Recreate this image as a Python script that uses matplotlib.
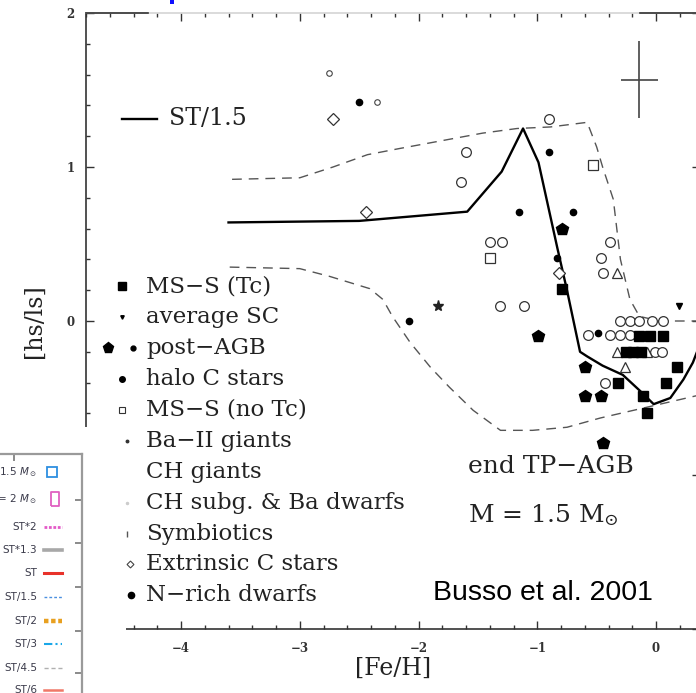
import matplotlib
matplotlib.use("Agg")
import matplotlib.pyplot as plt
from matplotlib.patches import Rectangle
from matplotlib.ticker import MultipleLocator

plt.rcParams["font.family"] = ["DejaVu Serif"]
plt.rcParams["mathtext.fontset"] = "dejavuserif"

# ---- model predictions: end of TP-AGB, M = 1.5 Msun ----
st15_feh = [-3.60, -2.50, -1.59, -1.30, -1.12, -0.99, -0.83, -0.75, -0.64, -0.58,
            -0.45, -0.28, -0.14, -0.02, 0.12, 0.23, 0.31, 0.37]
st15_hsls = [0.64, 0.65, 0.71, 0.97, 1.25, 1.03, 0.47, 0.20, -0.20, -0.23,
             -0.29, -0.35, -0.45, -0.54, -0.50, -0.38, -0.27, -0.15]

upper_feh = [-3.57, -3.00, -2.72, -2.43, -2.16, -1.74, -1.46, -1.17, -0.89, -0.58,
             -0.50, -0.45, -0.36, -0.30, -0.22, -0.14, 0.03, 0.37]
upper_hsls = [0.92, 0.93, 1.00, 1.08, 1.12, 1.18, 1.22, 1.25, 1.26, 1.29,
              1.13, 1.00, 0.79, 0.40, 0.14, 0.03, 0.00, 0.00]

lower_feh = [-3.59, -3.00, -2.75, -2.58, -2.41, -2.30, -2.22, -2.07, -1.90, -1.74,
             -1.54, -1.31, -1.04, -0.75, -0.47, -0.19, 0.09, 0.37]
lower_hsls = [0.35, 0.34, 0.29, 0.25, 0.21, 0.14, 0.03, -0.14, -0.30, -0.43,
              -0.58, -0.71, -0.71, -0.69, -0.63, -0.58, -0.53, -0.48]

# ---- observed stars ----
ms_tc_feh = [-0.79, -0.14, -0.05, 0.06, -0.25, -0.19, -0.13, -0.32, 0.18, 0.08, -0.11, -0.08]
ms_tc_hsls = [0.21, -0.10, -0.10, -0.10, -0.20, -0.20, -0.20, -0.40, -0.30, -0.40, -0.49, -0.60]

post_agb_feh = [-0.79, -0.99, -0.60, -0.60, -0.46, -0.45]
post_agb_hsls = [0.60, -0.10, -0.30, -0.49, -0.49, -0.79]

halo_c_feh = [-2.50, -0.90, -1.15, -0.70, -0.83, -2.08, -0.49]
halo_c_hsls = [1.42, 1.10, 0.71, 0.71, 0.41, 0.00, -0.08]

avg_sc_feh = [0.19]
avg_sc_hsls = [0.10]

symb_feh = [-1.84]
symb_hsls = [0.10]

open_circ_feh = [-1.60, -1.64, -0.90, -1.40, -1.30, -0.39, -0.46, -0.45, -1.31, -1.11,
                 -0.30, -0.22, -0.14, -0.03, 0.06, -0.57, -0.39, -0.30, -0.22,
                 -0.01, 0.05, -0.43]
open_circ_hsls = [1.10, 0.90, 1.31, 0.51, 0.51, 0.51, 0.41, 0.31, 0.10, 0.10,
                  0.00, 0.00, 0.00, 0.00, 0.00, -0.09, -0.09, -0.09, -0.09,
                  -0.20, -0.20, -0.40]

open_tri_feh = [-0.33, -0.33, -0.08, -0.26]
open_tri_hsls = [0.31, -0.20, -0.20, -0.30]

open_sq_feh = [-0.53, -1.40]
open_sq_hsls = [1.01, 0.41]

extr_big_feh = [-2.72, -2.44, -0.82]
extr_big_hsls = [1.31, 0.71, 0.31]

extr_small_feh = [-2.75, -2.35]
extr_small_hsls = [1.61, 1.42]

# typical error bar
err_feh, err_hsls, err_dx, err_dy = -0.14, 1.565, 0.155, 0.25

legend_labels = ["MS\u2212S (Tc)", "average SC", "post\u2212AGB", "halo C stars",
                 "MS\u2212S (no Tc)", "Ba\u2212II giants", "CH giants",
                 "CH subg. & Ba dwarfs", "Symbiotics", "Extrinsic C stars",
                 "N\u2212rich dwarfs"]

inset_labels = ["$M$ = 1.5 $M_\\odot$", "$M$ = 2 $M_\\odot$", "ST*2", "ST*1.3", "ST",
                "ST/1.5", "ST/2", "ST/3", "ST/4.5", "ST/6"]

W, H = 696, 693
fig = plt.figure(figsize=(W / 100, H / 100), dpi=100)
ax = fig.add_axes([86 / W, (H - 629) / H, (700 - 86) / W, (629 - 13) / H])
ax.set_xlim(-4.80, 0.37)
ax.set_ylim(-2, 2)

spine_c = "#333333"
for s in ax.spines.values():
    s.set_linewidth(1.2)
    s.set_color(spine_c)
ax.spines["top"].set_color("#d4d4d4")
for x0, x1 in [(0.0, 0.101), (0.902, 1.0)]:
    ax.plot([x0, x1], [1, 1], color=spine_c, lw=1.2, transform=ax.transAxes,
            clip_on=False, zorder=3)

ax.xaxis.set_major_locator(MultipleLocator(1))
ax.xaxis.set_minor_locator(MultipleLocator(0.2))
ax.yaxis.set_major_locator(MultipleLocator(1))
ax.yaxis.set_minor_locator(MultipleLocator(0.2))
ax.tick_params(which="both", direction="in", top=True, right=True, colors=spine_c,
               width=1.0)
ax.tick_params(which="major", length=6)
ax.tick_params(which="minor", length=3)
ax.tick_params(axis="x", which="major", pad=9, labelsize=8.5)
ax.tick_params(axis="y", which="major", pad=8, labelsize=8.5)
for lbl in ax.get_xticklabels() + ax.get_yticklabels():
    lbl.set_fontweight("bold")
ax.xaxis.set_major_formatter(plt.FuncFormatter(lambda v, p: f"{v:.0f}".replace("-", "\u2212")))
ax.yaxis.set_major_formatter(plt.FuncFormatter(lambda v, p: f"{v:.0f}".replace("-", "\u2212")))
ax.set_xlabel("[Fe/H]", fontsize=17, labelpad=2, color="#222222")
ax.set_ylabel("[hs/ls]", fontsize=17, labelpad=8, color="#222222")

# model curves
ax.plot(st15_feh, st15_hsls, color="black", lw=1.7, zorder=4, clip_on=True)
ax.plot(upper_feh, upper_hsls, color="#555555", lw=1.0, dashes=(7, 5), zorder=4)
ax.plot(lower_feh, lower_hsls, color="#555555", lw=1.0, dashes=(7, 5), zorder=4)

# stars
ax.plot(open_circ_feh, open_circ_hsls, "o", ms=7, mfc="white", mec="#333333", mew=0.9, zorder=5)
ax.plot(open_tri_feh, open_tri_hsls, "^", ms=7, mfc="white", mec="#333333", mew=0.9, zorder=5)
ax.plot(open_sq_feh, open_sq_hsls, "s", ms=7, mfc="white", mec="#333333", mew=0.9, zorder=5)
ax.plot(extr_big_feh, extr_big_hsls, "D", ms=6, mfc="white", mec="#333333", mew=0.9, zorder=5)
ax.plot(extr_small_feh, extr_small_hsls, "o", ms=4, mfc="white", mec="#444444", mew=0.8, zorder=5)
ax.plot(ms_tc_feh, ms_tc_hsls, "s", ms=7, color="black", zorder=6)
ax.plot(post_agb_feh, post_agb_hsls, "p", ms=9, color="black", zorder=6)
ax.plot(halo_c_feh, halo_c_hsls, "o", ms=4.5, color="black", zorder=6)
ax.plot(avg_sc_feh, avg_sc_hsls, "v", ms=4, color="black", zorder=6)
ax.plot(symb_feh, symb_hsls, "*", ms=8, color="#222222", zorder=6)

ax.errorbar([err_feh], [err_hsls], xerr=[err_dx], yerr=[err_dy], fmt="none",
            ecolor="#444444", elinewidth=1.2, capsize=0, zorder=5)

# model legend entry
ax.plot([-4.497, -4.202], [1.312, 1.312], color="black", lw=1.7, zorder=6)
ax.text(-4.10, 1.312, "ST/1.5", fontsize=17, va="center", ha="left",
        color="#222222", zorder=6)

# star legend
leg_x, leg_y0, leg_dy = -4.295, 0.227, -0.2009
for i, lab in enumerate(legend_labels):
    ax.text(leg_x, leg_y0 + i * leg_dy, lab, fontsize=16.5, va="center", ha="left",
            color="#222222", zorder=6)
ly = [leg_y0 + i * leg_dy for i in range(len(legend_labels))]
mk = dict(zorder=6, clip_on=False, linestyle="none")
ax.plot([-4.497], [ly[0]], "s", ms=6, color="black", **mk)
ax.plot([-4.497], [ly[1]], "v", ms=2.5, color="black", **mk)
ax.plot([-4.615], [ly[2]], "p", ms=8, color="black", **mk)
ax.plot([-4.404], [ly[2]], "o", ms=3.5, color="black", **mk)
ax.plot([-4.497], [ly[3]], "o", ms=4, color="black", **mk)
ax.plot([-4.497], [ly[4]], "s", ms=4.5, mfc="white", mec="#333333", mew=0.8, **mk)
ax.plot([-4.455], [ly[5]], "o", ms=1.8, color="#333333", **mk)
ax.plot([-4.455], [ly[7]], "o", ms=1.5, color="#cccccc", **mk)
ax.plot([-4.455], [ly[8]], "|", ms=4, mew=1.0, color="#555555", **mk)
ax.plot([-4.430], [ly[9]], "D", ms=3.5, mfc="white", mec="#444444", mew=0.8, **mk)
ax.plot([-4.420], [ly[10]], "o", ms=4.5, color="black", **mk)

ax.text(-1.583, -0.948, "end TP\u2212AGB", fontsize=18, va="center", ha="left",
        color="#222222", zorder=6)
ax.text(-1.583, -1.26, "M = 1.5 M$_{\\odot}$", fontsize=18, va="center", ha="left",
        color="#222222", zorder=6)
ax.text(-1.878, -1.766, "Busso et al. 2001", fontsize=20.5, va="center", ha="left",
        family="Liberation Sans", color="black", zorder=6)

# blank corner under the inset key
ax.add_patch(Rectangle((0, 0), 126 / W, (H - 427) / H, transform=fig.transFigure,
                       facecolor="white", edgecolor="none", zorder=3, clip_on=False))

# inset key of model scalings (axes in pixel units)
ax2 = fig.add_axes([-100 / W, (H - 743) / H, 182 / W, (743 - 454) / H])
ax2.set_xlim(-100, 82)
ax2.set_ylim(743, 454)
ax2.set_facecolor("white")
for k in ["left", "bottom"]:
    ax2.spines[k].set_visible(False)
for k in ["right", "top"]:
    ax2.spines[k].set_color("#9a9a9a")
    ax2.spines[k].set_linewidth(1.6)
ax2.set_xticks([14])
ax2.set_yticks([500, 543, 587, 631, 673])
ax2.tick_params(direction="in", length=5, width=1.2, colors="#777777",
                labelbottom=False, labelleft=False, bottom=False, left=False,
                top=True, right=True)

row_y = [472, 499, 527, 550, 573, 597, 621, 644, 668, 690]
for y, lab in zip(row_y, inset_labels):
    ax2.text(37, y, lab, fontsize=7.5, family="DejaVu Sans", math_fontfamily="dejavusans",
             ha="right", va="center", color="#3a3a4a", clip_on=False)
ax2.plot([52], [row_y[0]], "s", ms=6.5, mfc="white", mec="#2d8fe0", mew=1.3)
tall = [(-0.55, -1), (0.55, -1), (0.55, 1), (-0.55, 1), (-0.55, -1)]
ax2.plot([55], [row_y[1]], marker=tall, ms=10, mfc="white", mec="#e060c0", mew=1.3,
         linestyle="none")
seg = [44, 62]
ax2.plot(seg, [row_y[2]] * 2, color="#e35ac8", lw=2.0, dashes=(1, 0.6))
ax2.plot(seg, [row_y[3]] * 2, color="#a8a8a8", lw=2.6)
ax2.plot(seg, [row_y[4]] * 2, color="#e8322a", lw=2.2)
ax2.plot(seg, [row_y[5]] * 2, color="#4a8fe0", lw=1.0, dashes=(2, 1.5))
ax2.plot(seg, [row_y[6]] * 2, color="#e8a020", lw=3.2, dashes=(1, 0.6))
ax2.plot(seg, [row_y[7]] * 2, color="#1aa7e8", lw=1.5, dashes=(4, 1.5, 1, 1.5))
ax2.plot(seg, [row_y[8]] * 2, color="#b0b0b0", lw=1.0, dashes=(3, 2))
ax2.plot(seg, [row_y[9]] * 2, color="#f07868", lw=1.8)

# blue fragment at the top edge
fig.patches.append(Rectangle((170 / W, (H - 4) / H), 4 / W, 4 / H,
                             transform=fig.transFigure, facecolor="#1010ff",
                             edgecolor="none"))

fig.savefig("out.png", dpi=100)
